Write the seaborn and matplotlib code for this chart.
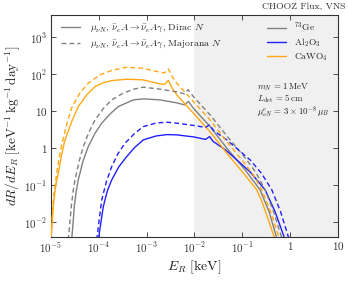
import numpy as np
import pandas as pd
import matplotlib
matplotlib.use("Agg")
import matplotlib.pyplot as plt
import seaborn as sns
from matplotlib.lines import Line2D
from matplotlib.ticker import NullLocator, FixedLocator

# ---------------- data (in log10 units) ----------------
# CaWO4, Dirac (solid orange)
logE_ca_d = [-5.0, -4.948, -4.90, -4.847, -4.78, -4.707, -4.567, -4.429, -4.253, -4.08, -3.90,
             -3.73, -3.416, -3.069, -2.72, -2.626, -2.546, -2.469, -2.37, -2.023, -1.674,
             -1.324, -1.0, -0.697, -0.60, -0.513, -0.328]
logR_ca_d = [-2.48, -1.53, -1.0, -0.677, -0.20, 0.224, 0.718, 1.124, 1.44, 1.664, 1.77,
             1.826, 1.864, 1.845, 1.737, 1.723, 1.832, 1.629, 1.44, 0.946, 0.44,
             -0.136, -0.64, -1.128, -1.41, -1.723, -2.426]
# CaWO4, Majorana (dashed orange)
logE_ca_m = [-5.0, -4.948, -4.881, -4.83, -4.776, -4.67, -4.567, -4.40, -4.22, -3.98, -3.73,
             -3.416, -3.069, -2.72, -2.626, -2.546, -2.469, -2.37, -2.023, -1.674, -1.324,
             -0.941, -0.75, -0.592, -0.408, -0.23]
logR_ca_m = [-2.37, -1.344, -0.669, -0.27, 0.089, 0.65, 1.088, 1.48, 1.756, 1.98, 2.102,
             2.188, 2.156, 2.053, 2.034, 2.142, 1.94, 1.756, 1.259, 0.764, 0.177,
             -0.426, -0.76, -1.128, -1.723, -2.426]
# 73Ge, Dirac (solid gray)
logE_ge_d = [-4.567, -4.508, -4.47, -4.429, -4.33, -4.22, -4.08, -3.939, -3.76, -3.592, -3.278,
             -3.069, -2.72, -2.37, -2.207, -2.128, -2.023, -1.674, -1.324, -0.941, -0.628,
             -0.439, -0.282]
logR_ge_d = [-2.48, -1.533, -1.15, -0.857, -0.35, 0.042, 0.40, 0.675, 0.93, 1.124, 1.305,
             1.332, 1.305, 1.224, 1.169, 1.264, 1.08, 0.583, -0.001, -0.588, -1.128,
             -1.723, -2.426]
# 73Ge, Majorana (dashed gray)
logE_ge_m = [-4.638, -4.571, -4.535, -4.498, -4.41, -4.324, -4.20, -4.079, -3.90, -3.73, -3.50,
             -3.278, -3.069, -2.72, -2.37, -2.207, -2.134, -2.023, -1.674, -1.324, -0.941,
             -0.72, -0.523, -0.345, -0.174]
logR_ge_m = [-2.48, -1.533, -1.15, -0.857, -0.35, 0.042, 0.45, 0.764, 1.08, 1.305, 1.48,
             1.594, 1.648, 1.594, 1.521, 1.467, 1.58, 1.394, 0.899, 0.332, -0.263,
             -0.65, -1.128, -1.723, -2.426]
# Al2O3, Dirac (solid blue)
logE_al_d = [-4.010, -3.906, -3.82, -3.73, -3.58, -3.416, -3.25, -3.069, -2.80, -2.579, -2.37,
             -2.023, -1.768, -1.684, -1.611, -1.533, -1.324, -0.837, -0.523, -0.314, -0.119]
logR_al_d = [-2.48, -1.579, -1.15, -0.857, -0.50, -0.228, 0.02, 0.224, 0.33, 0.367, 0.359,
             0.305, 0.237, 0.313, 0.183, 0.115, -0.074, -0.641, -1.128, -1.723, -2.426]
# Al2O3, Majorana (dashed blue)
logE_al_m = [-4.044, -3.939, -3.84, -3.73, -3.60, -3.452, -3.25, -3.069, -2.80, -2.579, -2.37,
             -2.023, -1.768, -1.684, -1.611, -1.533, -1.324, -0.837, -0.60, -0.383, -0.199,
             -0.031]
logR_al_m = [-2.48, -1.398, -0.90, -0.498, -0.15, 0.134, 0.40, 0.583, 0.68, 0.702, 0.675,
             0.615, 0.561, 0.634, 0.494, 0.413, 0.224, -0.317, -0.68, -1.128, -1.723,
             -2.426]

materials = [r"$^{73}$Ge", r"Al$_2$O$_3$", r"CaWO$_4$"]
colors = {materials[0]: "#808080", materials[1]: "#1f1fff", materials[2]: "#ffa812"}

x_ticks = [1e-5, 1e-4, 1e-3, 1e-2, 1e-1, 1, 10]
x_labels = [r"$10^{-5}$", r"$10^{-4}$", r"$10^{-3}$", r"$10^{-2}$", r"$10^{-1}$", r"$1$", r"$10$"]
y_ticks = [1e-2, 1e-1, 1, 10, 1e2, 1e3]
y_labels = [r"$10^{-2}$", r"$10^{-1}$", r"$1$", r"$10$", r"$10^{2}$", r"$10^{3}$"]

# ---------------- table ----------------
rows = []
for mat, kind, lE, lR in [
    (materials[0], "Dirac", logE_ge_d, logR_ge_d), (materials[0], "Majorana", logE_ge_m, logR_ge_m),
    (materials[1], "Dirac", logE_al_d, logR_al_d), (materials[1], "Majorana", logE_al_m, logR_al_m),
    (materials[2], "Dirac", logE_ca_d, logR_ca_d), (materials[2], "Majorana", logE_ca_m, logR_ca_m),
]:
    for e, r in zip(lE, lR):
        rows.append({"E": 10.0 ** e, "R": 10.0 ** r, "material": mat, "kind": kind})
df = pd.DataFrame(rows)

# ---------------- style ----------------
sns.set_style("ticks")
plt.rcParams["font.family"] = ["serif"]
plt.rcParams["font.serif"] = ["cmr10", "DejaVu Serif"]
plt.rcParams["mathtext.fontset"] = "cm"
plt.rcParams["axes.unicode_minus"] = False
plt.rcParams["axes.formatter.use_mathtext"] = True

fig = plt.figure(figsize=(3.49, 2.81), dpi=100)
ax = fig.add_axes([0.146, 0.157, 0.8225, 0.79])

ax.axvspan(1e-2, 10, color="#f0f0f0", zorder=0, lw=0)

DASH = (3.5, 2.2)
for kind in ["Dirac", "Majorana"]:
    sub = df[df["kind"] == kind]
    for mat in materials:
        s = sub[sub["material"] == mat]
        sns.lineplot(data=s, x="E", y="R", color=colors[mat], lw=1.0,
                     sort=False, estimator=None, ax=ax, legend=False, zorder=3)
        ln = ax.lines[-1]
        ln.set_solid_joinstyle("round")
        ln.set_dash_joinstyle("round")
        if kind == "Majorana":
            ln.set_dashes(DASH)

ax.set_xscale("log")
ax.set_yscale("log")
ax.set_xlim(1e-5, 10)
ax.set_ylim(4e-3, 4e3)
ax.xaxis.set_major_locator(FixedLocator(x_ticks))
ax.set_xticklabels(x_labels)
ax.yaxis.set_major_locator(FixedLocator(y_ticks))
ax.set_yticklabels(y_labels)
ax.xaxis.set_minor_locator(NullLocator())
ax.yaxis.set_minor_locator(NullLocator())
ax.tick_params(which="both", direction="in", top=True, right=True, length=3.5,
               width=0.6, labelsize=8, pad=2.5, colors="#333333")
for sp in ax.spines.values():
    sp.set_linewidth(0.8)
    sp.set_color("#333333")

ax.set_xlabel(r"$E_R\ [\mathrm{keV}]$", fontsize=10, labelpad=2, color="#222222")
ax.set_ylabel(r"$dR/dE_R\ [\mathrm{keV}^{-1}\,\mathrm{kg}^{-1}\,\mathrm{day}^{-1}]$",
              fontsize=9.5, labelpad=2, color="#222222")
ax.text(1.025, 1.015, "CHOOZ Flux, VNS", transform=ax.transAxes, ha="right", va="bottom",
        fontsize=7, color="#333333")

h1 = [Line2D([], [], color="#808080", lw=1.0),
      Line2D([], [], color="#808080", lw=1.0, dashes=DASH)]
lab1 = [r"$\mu_{\nu N}$, $\bar{\nu}_e A\rightarrow\bar{\nu}_e A\gamma$, Dirac $N$",
        r"$\mu_{\nu N}$, $\bar{\nu}_e A\rightarrow\bar{\nu}_e A\gamma$, Majorana $N$"]
leg1 = ax.legend(h1, lab1, loc="upper left", frameon=False, fontsize=7.0,
                 handlelength=2.0, handletextpad=1.0, labelspacing=0.4,
                 borderaxespad=0.3, bbox_to_anchor=(0.01, 0.995))
ax.add_artist(leg1)

h2 = [Line2D([], [], color=colors[m], lw=1.0) for m in materials]
ax.legend(h2, materials, loc="upper right", frameon=False, fontsize=6.8,
          handlelength=2.0, handletextpad=0.9, labelspacing=0.25,
          borderaxespad=0.2, bbox_to_anchor=(0.985, 1.0))

ax.text(0.717, 0.676, r"$m_N\,=\,1\,\mathrm{MeV}$", transform=ax.transAxes, fontsize=6.4,
        va="center", ha="left")
ax.text(0.717, 0.622, r"$L_{\rm det}\,=\,5\,\mathrm{cm}$", transform=ax.transAxes, fontsize=6.4,
        va="center", ha="left")
ax.text(0.717, 0.560, r"$\mu^{e}_{\nu N}\,=\,3\times10^{-8}\,\mu_B$", transform=ax.transAxes,
        fontsize=6.4, va="center", ha="left")

fig.savefig("out.png", dpi=100)
